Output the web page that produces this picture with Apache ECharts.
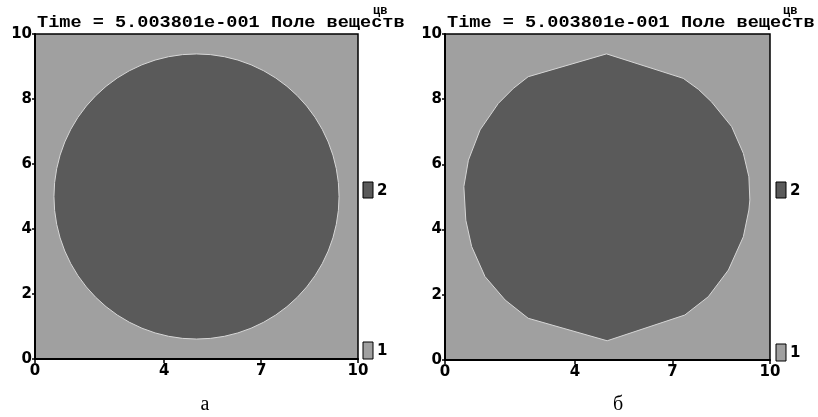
<!DOCTYPE html>
<html>
<head>
<meta charset="utf-8">
<script src="https://cdn.jsdelivr.net/npm/echarts@6/dist/echarts.min.js"></script>
<style>
  html, body { margin: 0; padding: 0; background: #fff; }
  #chart { width: 818px; height: 417px; }
</style>
</head>
<body>
<div id="chart"></div>
<script>
// axis ticks
const xTicks = [0, 4, 7, 10];
const yTicks = [0, 2, 4, 6, 8, 10];

// panel а: round drop, centre x, centre y, radius
const dropA = [5.0, 5.0, 4.4];

// panel б: faceted drop, boundary points (clockwise from top)
const dropBX = [4.97, 7.33, 7.8, 8.2, 8.82, 9.18, 9.35, 9.38, 9.35, 9.18, 8.72, 8.1, 7.38, 4.99,
                2.56, 1.85, 1.23, 0.82, 0.64, 0.58, 0.72, 1.08, 1.64, 2.1, 2.56];
const dropBY = [9.39, 8.64, 8.3, 7.92, 7.16, 6.34, 5.62, 4.91, 4.6, 3.78, 2.76, 1.94, 1.38, 0.59,
                1.28, 1.84, 2.56, 3.48, 4.29, 5.32, 6.13, 7.06, 7.87, 8.33, 8.69];

const titleText = 'Time = 5.003801e-001 Поле веществ';
const legendLabels = ['2', '1'];

const cLight = '#a0a0a0';
const cDark = '#5a5a5a';

const chart = echarts.init(document.getElementById('chart'));

function gridOf(left, width, height) {
  return {
    left: left, top: 34, width: width, height: height,
    show: true, backgroundColor: cLight, borderColor: '#000', borderWidth: 1.5
  };
}

function xAxisOf(i) {
  return {
    gridIndex: i, type: 'value', min: 0, max: 10,
    axisLine: { show: true, lineStyle: { color: '#000', width: 2 } },
    axisTick: { show: true, length: 4, customValues: xTicks, lineStyle: { color: '#000', width: 1.5 } },
    axisLabel: { customValues: xTicks, color: '#000', fontWeight: 'bold', fontSize: 15,
                 fontFamily: 'DejaVu Sans', margin: 5 },
    splitLine: { show: false }
  };
}

function yAxisOf(i) {
  return {
    gridIndex: i, type: 'value', min: 0, max: 10, interval: 2,
    axisLine: { show: true, lineStyle: { color: '#000', width: 2 } },
    axisTick: { show: true, length: 3, lineStyle: { color: '#000', width: 1.5 } },
    axisLabel: { color: '#000', fontWeight: 'bold', fontSize: 15,
                 fontFamily: 'DejaVu Sans', margin: 3 },
    splitLine: { show: false }
  };
}

const dropBPoints = dropBX.map((x, i) => [x, dropBY[i]]);

function legendBox(x, y, h, fill, label) {
  return [
    { type: 'rect', shape: { x: x, y: y, width: 10, height: h },
      style: { fill: fill, stroke: '#000', lineWidth: 1 } },
    { type: 'text', x: x + 14, y: y + h / 2 + 1,
      style: { text: label, font: 'bold 15px "DejaVu Sans"', fill: '#000',
               textAlign: 'left', textVerticalAlign: 'middle' } }
  ];
}

function title(x) {
  return [
    { type: 'text', x: x, y: 23, scaleX: 1.16,
      style: { text: titleText, font: 'bold 16px "Liberation Mono"', fill: '#000',
               textAlign: 'left', textVerticalAlign: 'middle' } },
    { type: 'text', x: x + 336, y: 11,
      style: { text: 'цв', font: 'bold 12px "Liberation Mono"', fill: '#000',
               textAlign: 'left', textVerticalAlign: 'middle' } }
  ];
}

const option = {
  backgroundColor: '#fff',
  animation: false,
  grid: [gridOf(35, 323, 325), gridOf(445, 325, 326)],
  xAxis: [xAxisOf(0), xAxisOf(1)],
  yAxis: [yAxisOf(0), yAxisOf(1)],
  series: [
    {
      type: 'custom', xAxisIndex: 0, yAxisIndex: 0,
      data: [dropA],
      renderItem: function (params, api) {
        const c = api.coord([api.value(0), api.value(1)]);
        const s = api.size([api.value(2), api.value(2)]);
        return {
          type: 'circle',
          shape: { cx: c[0], cy: c[1], r: (s[0] + s[1]) / 2 },
          style: { fill: cDark, stroke: '#d6d6d6', lineWidth: 1 }
        };
      }
    },
    {
      type: 'custom', xAxisIndex: 1, yAxisIndex: 1,
      data: dropBPoints,
      renderItem: function (params, api) {
        if (params.dataIndex !== 0) return null;
        const pts = dropBPoints.map(p => api.coord(p));
        return {
          type: 'polygon',
          shape: { points: pts },
          style: { fill: cDark, stroke: '#d6d6d6', lineWidth: 1 }
        };
      }
    }
  ],
  graphic: [].concat(
    title(37),
    title(447),
    legendBox(363, 182, 16, cDark, legendLabels[0]),
    legendBox(363, 342, 17, cLight, legendLabels[1]),
    legendBox(776, 182, 16, cDark, legendLabels[0]),
    legendBox(776, 344, 17, cLight, legendLabels[1]),
    [
      { type: 'text', x: 205, y: 405,
        style: { text: 'а', font: '20px "Liberation Serif"', fill: '#000',
                 textAlign: 'center', textVerticalAlign: 'middle' } },
      { type: 'text', x: 618, y: 405,
        style: { text: 'б', font: '20px "Liberation Serif"', fill: '#000',
                 textAlign: 'center', textVerticalAlign: 'middle' } }
    ]
  )
};

chart.setOption(option);
</script>
</body>
</html>
